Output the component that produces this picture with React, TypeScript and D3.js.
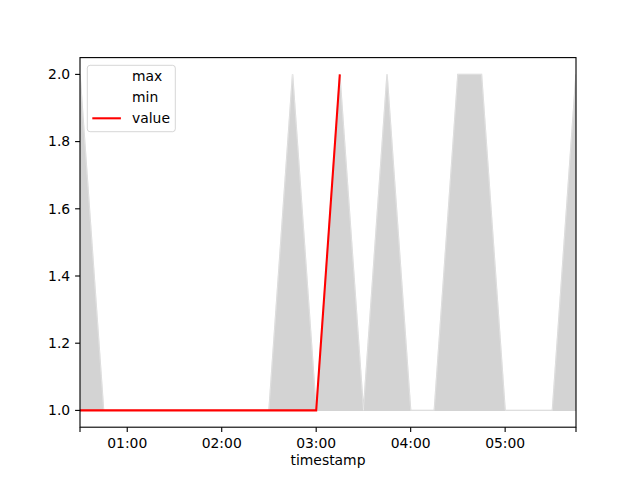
import React from "react";
import * as d3 from "d3";

const times: string[] = [
  "00:30", "00:45", "01:00", "01:15", "01:30", "01:45", "02:00", "02:15",
  "02:30", "02:45", "03:00", "03:15", "03:30", "03:45", "04:00", "04:15",
  "04:30", "04:45", "05:00", "05:15", "05:30", "05:45",
];
const maxValues: number[] = [2, 1, 1, 1, 1, 1, 1, 1, 1, 2, 1, 2, 1, 2, 1, 1, 2, 2, 1, 1, 1, 2];
const minValues: number[] = [1, 1, 1, 1, 1, 1, 1, 1, 1, 1, 1, 1, 1, 1, 1, 1, 1, 1, 1, 1, 1, 1];
const values: (number | null)[] = [1, 1, 1, 1, 1, 1, 1, 1, 1, 1, 1, 2, null, null, null, null, null, null, null, null, null, null];
const yTicks: number[] = [1.0, 1.2, 1.4, 1.6, 1.8, 2.0];
const xTickLabels: string[] = ["01:00", "02:00", "03:00", "04:00", "05:00"];
const legendLabels: string[] = ["max", "min", "value"];
const xLabel = "timestamp";

const toDate = (s: string) => new Date(`2020-01-01T${s}:00Z`);

export default function App() {
  const W = 640, H = 480;
  const L = 80, R = 576, T = 57.6, B = 427.2;
  const font = "DejaVu Sans, sans-serif";
  const fs = 13.9;
  const lw = 2.08;
  const sw = 1.11;

  const dates = times.map(toDate);
  const x = d3.scaleUtc().domain([dates[0], dates[dates.length - 1]]).range([L, R]);
  const y = d3.scaleLinear().domain([0.95, 2.05]).range([B, T]);

  const rows = dates.map((d, i) => ({ d, max: maxValues[i], min: minValues[i], v: values[i] }));

  const area = d3.area<any>().x((r) => x(r.d)).y0((r) => y(r.min)).y1((r) => y(r.max))(rows) || "";
  const maxLine = d3.line<any>().x((r) => x(r.d)).y((r) => y(r.max))(rows) || "";
  const minLine = d3.line<any>().x((r) => x(r.d)).y((r) => y(r.min))(rows) || "";
  const valLine = d3.line<any>().defined((r) => r.v != null).x((r) => x(r.d)).y((r) => y(r.v))(rows) || "";

  const fmt = d3.utcFormat("%H:%M");
  const hourTicks = xTickLabels.map(toDate);
  const edgeTicks = [dates[0], dates[dates.length - 1]];
  const tickLen = 4.9;

  const legendX = 87.3, legendY = 65.3;
  const legendColors = ["white", "white", "red"];

  return (
    <svg width={W} height={H} style={{ display: "block", position: "absolute", left: 0, top: 0 }} fontFamily={font}>
      <rect x={0} y={0} width={W} height={H} fill="white" />
      <defs>
        <clipPath id="plotclip">
          <rect x={L} y={T} width={R - L} height={B - T} />
        </clipPath>
      </defs>
      <g clipPath="url(#plotclip)">
        <path d={maxLine} fill="none" stroke="white" strokeWidth={lw} />
        <path d={minLine} fill="none" stroke="white" strokeWidth={lw} transform="translate(0,0.9)" />
        <path d={area} fill="lightgray" stroke="lightgray" strokeWidth={1.39} />
        <path d={maxLine} fill="none" stroke="white" strokeOpacity={0.3} strokeWidth={1} />
        <path d={valLine} fill="none" stroke="red" strokeWidth={lw} />
      </g>
      {/* spines */}
      <rect x={L} y={T} width={R - L} height={B - T} fill="none" stroke="black" strokeWidth={sw} />
      {/* y ticks */}
      {yTicks.map((t) => (
        <g key={"y" + t}>
          <line x1={L - tickLen} x2={L} y1={y(t)} y2={y(t)} stroke="black" strokeWidth={sw} />
          <text x={L - tickLen - 4.9} y={y(t)} dy="0.35em" textAnchor="end" fontSize={fs} fill="black">
            {t.toFixed(1)}
          </text>
        </g>
      ))}
      {/* x ticks */}
      {edgeTicks.map((d, i) => (
        <line key={"e" + i} x1={x(d)} x2={x(d)} y1={B} y2={B + tickLen} stroke="black" strokeWidth={sw} />
      ))}
      {hourTicks.map((d, i) => (
        <g key={"x" + i}>
          <line x1={x(d)} x2={x(d)} y1={B} y2={B + tickLen} stroke="black" strokeWidth={sw} />
          <text x={x(d)} y={B + tickLen + 4.9 + 10.6} textAnchor="middle" fontSize={fs} fill="black">
            {fmt(d)}
          </text>
        </g>
      ))}
      <text x={(L + R) / 2} y={465} textAnchor="middle" fontSize={fs} fill="black">
        {xLabel}
      </text>
      {/* legend */}
      <rect x={legendX} y={legendY} width={88} height={66.4} rx={2.8} fill="white" fillOpacity={0.8} stroke="#cccccc" strokeOpacity={0.8} strokeWidth={1} />
      {legendLabels.map((lab, i) => {
        const cy = 76.5 + i * 20.9;
        return (
          <g key={lab}>
            <line x1={92.3} x2={120.9} y1={cy} y2={cy} stroke={legendColors[i]} strokeWidth={lw} />
            <text x={132} y={cy} dy="0.35em" fontSize={fs} fill="black">
              {lab}
            </text>
          </g>
        );
      })}
    </svg>
  );
}
